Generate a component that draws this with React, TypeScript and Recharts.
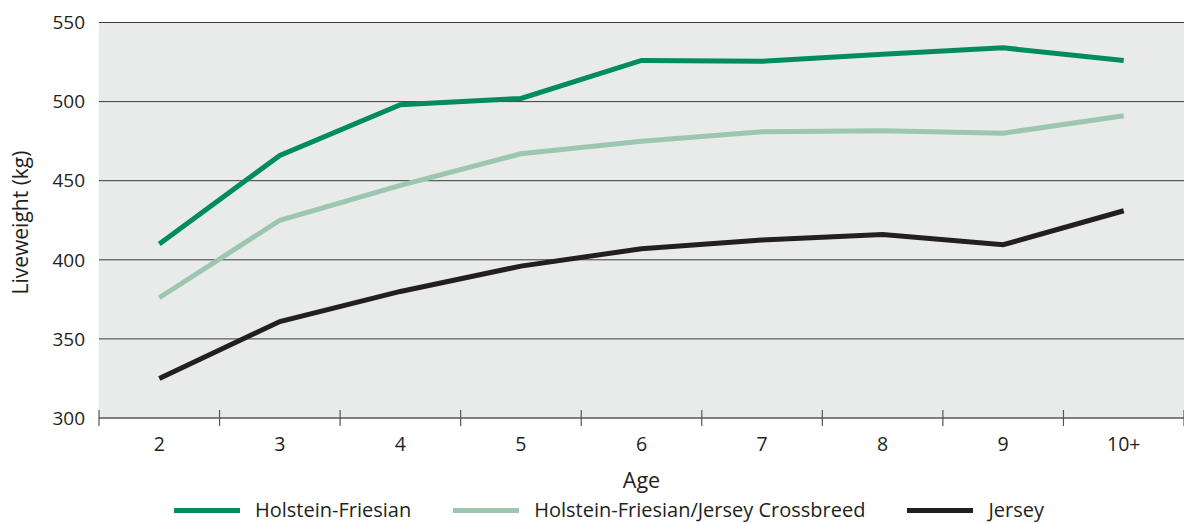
import { LineChart, Line, XAxis, YAxis, CartesianGrid, Legend } from 'recharts'

const ages = ['2', '3', '4', '5', '6', '7', '8', '9', '10+']
const holsteinFriesian = [410, 466, 498, 502, 526, 525.5, 530, 534, 526]
const crossbreed = [376, 425, 447, 467, 475, 481, 481.5, 480, 491]
const jersey = [325, 361, 380, 396, 407, 412.5, 416, 409.5, 431]
const yTicks = [300, 350, 400, 450, 500, 550]

const series = [
  { key: 'hf', name: 'Holstein-Friesian', color: '#008c5c' },
  { key: 'cross', name: 'Holstein-Friesian/Jersey Crossbreed', color: '#9cc6b0' },
  { key: 'jersey', name: 'Jersey', color: '#231f20' },
]

const data = ages.map((age, i) => ({
  idx: i,
  age,
  hf: holsteinFriesian[i],
  cross: crossbreed[i],
  jersey: jersey[i],
}))

// centres get labels, half steps get the boundary tick marks
const xTicks: number[] = []
for (let i = 0; i <= ages.length; i++) {
  xTicks.push(i - 0.5)
  if (i < ages.length) xTicks.push(i)
}

const FONT = '"Open Sans", sans-serif'
const TEXT = '#231f20'

function AgeTick({ x, y, payload }: any) {
  const v = payload.value
  if (Number.isInteger(v)) {
    return (
      <text x={x} y={y + 33} textAnchor="middle" fontSize={19.5} fill={TEXT} fontFamily={FONT}>
        {ages[v]}
      </text>
    )
  }
  return <line x1={x} x2={x} y1={y - 8} y2={y + 8} stroke="#555" strokeWidth={1.2} />
}

function LegendRow() {
  return (
    <div
      style={{
        display: 'flex',
        alignItems: 'center',
        paddingLeft: 174,
        fontFamily: FONT,
        fontSize: 20,
        lineHeight: '22px',
        color: TEXT,
      }}
    >
      {series.map((s) => (
        <div key={s.key} style={{ display: 'flex', alignItems: 'center', marginRight: 42, whiteSpace: 'nowrap' }}>
          <span style={{ display: 'inline-block', width: 66, height: 5, background: s.color, marginRight: 15 }} />
          <span>{s.name}</span>
        </div>
      ))}
    </div>
  )
}

export default function App() {
  return (
    <div style={{ position: 'absolute', left: 0, top: 0, width: 1184, height: 524, background: '#fff' }}>
      <LineChart width={1184} height={524} data={data} margin={{ top: 22.5, right: 0, left: 0, bottom: 46 }}>
        <CartesianGrid vertical={false} stroke="#3a3a3a" fill="#e9ebea" />
        <XAxis
          dataKey="idx"
          type="number"
          domain={[-0.5, ages.length - 0.5]}
          ticks={xTicks}
          interval={0}
          height={60}
          tick={<AgeTick />}
          tickSize={0}
          tickMargin={0}
          tickLine={false}
          axisLine={{ stroke: '#777', strokeWidth: 1.5 }}
          label={{
            content: ({ viewBox }: any) => (
              <text
                x={viewBox.x + viewBox.width / 2}
                y={viewBox.y + 70}
                textAnchor="middle"
                fontSize={21.5}
                fill={TEXT}
                fontFamily={FONT}
              >
                Age
              </text>
            ),
          }}
        />
        <YAxis
          domain={[300, 550]}
          ticks={yTicks}
          width={99}
          axisLine={false}
          tickLine={false}
          tickSize={0}
          tickMargin={14}
          tick={{ fontSize: 19, fill: TEXT, fontFamily: FONT }}
          label={{
            content: ({ viewBox }: any) => {
              const cx = viewBox.x + 28
              const cy = 222.5
              return (
                <text
                  x={cx}
                  y={cy}
                  transform={`rotate(-90 ${cx} ${cy})`}
                  textAnchor="middle"
                  fontSize={21}
                  fill={TEXT}
                  fontFamily={FONT}
                >
                  Liveweight (kg)
                </text>
              )
            },
          }}
        />
        <Legend
          layout="horizontal"
          verticalAlign="middle"
          align="center"
          wrapperStyle={{ top: 499, left: 0, width: 1184 }}
          content={() => <LegendRow />}
        />
        {series.map((s) => (
          <Line
            key={s.key}
            type="linear"
            dataKey={s.key}
            name={s.name}
            stroke={s.color}
            strokeWidth={5}
            dot={false}
            activeDot={false}
            isAnimationActive={false}
          />
        ))}
      </LineChart>
    </div>
  )
}
